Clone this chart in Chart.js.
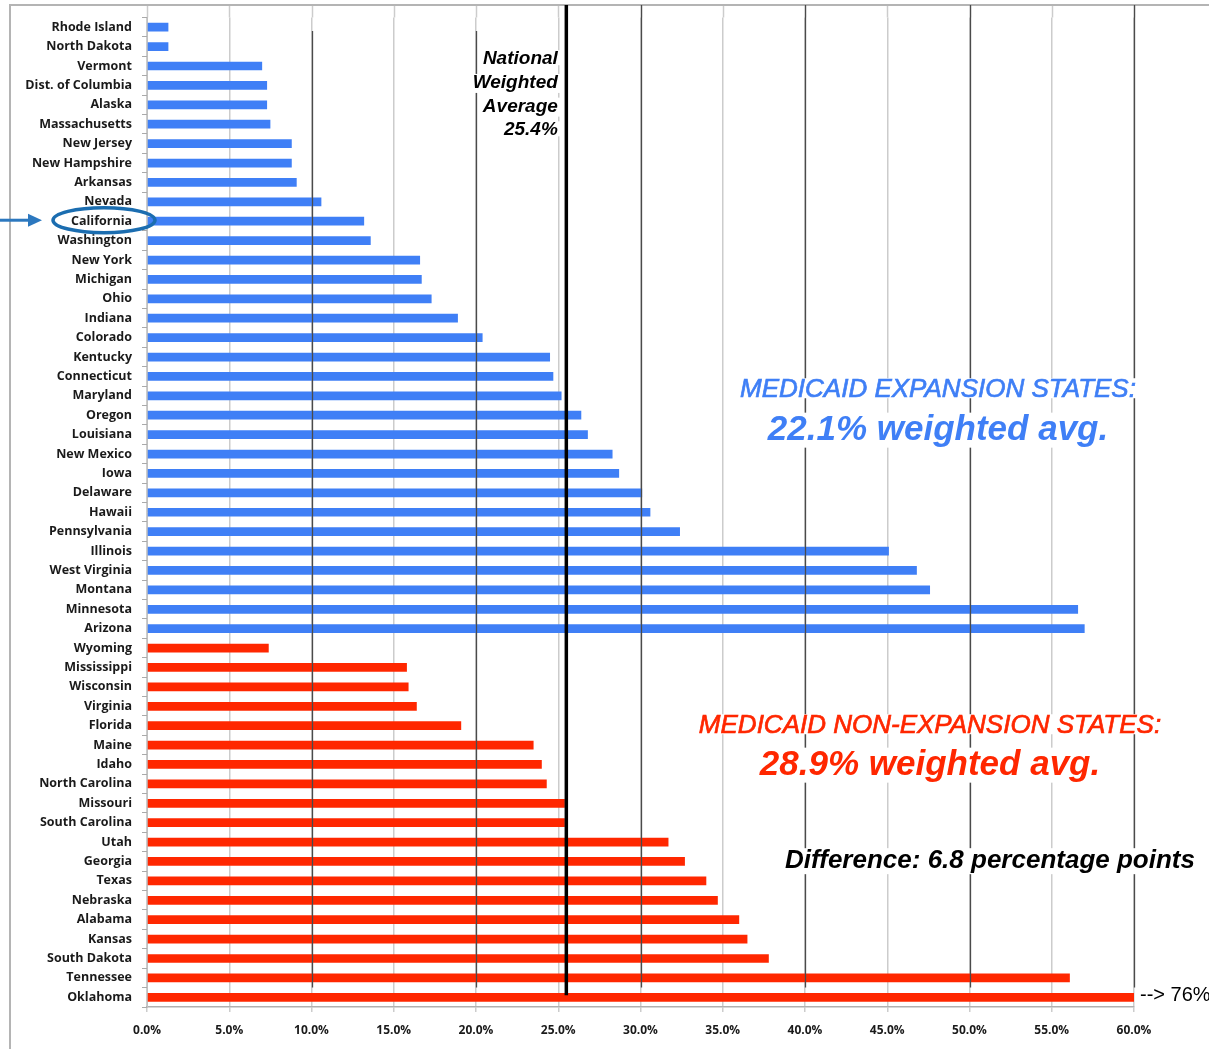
<!DOCTYPE html>
<html><head><meta charset="utf-8">
<script src="https://cdn.jsdelivr.net/npm/chart.js@4.4.1/dist/chart.umd.min.js"></script>
<style>html,body{margin:0;padding:0;background:#fff;} canvas{display:block}</style>
</head><body>
<canvas id="c" width="1209" height="1049"></canvas>
<script>
// ---- DATA ----
const expansionStates = ["Rhode Island","North Dakota","Vermont","Dist. of Columbia","Alaska","Massachusetts","New Jersey","New Hampshire","Arkansas","Nevada","California","Washington","New York","Michigan","Ohio","Indiana","Colorado","Kentucky","Connecticut","Maryland","Oregon","Louisiana","New Mexico","Iowa","Delaware","Hawaii","Pennsylvania","Illinois","West Virginia","Montana","Minnesota","Arizona"];
const expansionRates = [1.3,1.3,7.0,7.3,7.3,7.5,8.8,8.8,9.1,10.6,13.2,13.6,16.6,16.7,17.3,18.9,20.4,24.5,24.7,25.2,26.4,26.8,28.3,28.7,30.1,30.6,32.4,45.1,46.8,47.6,56.6,57.0];
const nonExpansionStates = ["Wyoming","Mississippi","Wisconsin","Virginia","Florida","Maine","Idaho","North Carolina","Missouri","South Carolina","Utah","Georgia","Texas","Nebraska","Alabama","Kansas","South Dakota","Tennessee","Oklahoma"];
const nonExpansionRates = [7.4,15.8,15.9,16.4,19.1,23.5,24.0,24.3,25.4,25.4,31.7,32.7,34.0,34.7,36.0,36.5,37.8,56.1,76.0];
const xAxisMin = 0, xAxisMax = 60, xAxisStep = 5;
const nationalAverage = 25.4;
const expansionAverage = 22.1;
const nonExpansionAverage = 28.9;
const differencePoints = 6.8;
const highlightedState = "California";

// ---- derived ----
const states = expansionStates.concat(nonExpansionStates);
const rates = expansionRates.concat(nonExpansionRates);
const BLUE = "#3f7ff6", RED = "#ff2700";
const colors = expansionStates.map(() => BLUE).concat(nonExpansionStates.map(() => RED));
const overflowValue = nonExpansionRates[nonExpansionRates.length - 1];

const FRAME_TOP = 5, FRAME_LEFT = 10;

function textBg(ctx, text, x, y, font, color, align, strokeW) {
  ctx.save();
  ctx.font = font;
  ctx.textAlign = align;
  ctx.textBaseline = "middle";
  const m = ctx.measureText(text);
  const w = m.width;
  const h = (m.actualBoundingBoxAscent + m.actualBoundingBoxDescent) || 20;
  let x0 = align === "center" ? x - w / 2 : align === "right" ? x - w : x;
  ctx.fillStyle = "#fff";
  ctx.fillRect(x0 - 3, y - m.actualBoundingBoxAscent - 1, w + 6, h + 2);
  ctx.fillStyle = color;
  ctx.fillText(text, x, y);
  if (strokeW) { ctx.strokeStyle = color; ctx.lineWidth = strokeW; ctx.strokeText(text, x, y); }
  ctx.restore();
}

const decor = {
  id: "decor",
  beforeDraw(chart) {
    const ctx = chart.ctx, a = chart.chartArea, xs = chart.scales.x;
    ctx.save();
    ctx.fillStyle = "#fff";
    ctx.fillRect(0, 0, chart.width, chart.height);
    ctx.strokeStyle = "#cccccc"; ctx.lineWidth = 1.5;
    for (let v = xAxisMin; v <= xAxisMax; v += xAxisStep) {
      const px = Math.round(xs.getPixelForValue(v)) + 0.5;
      ctx.beginPath(); ctx.moveTo(px, FRAME_TOP); ctx.lineTo(px, a.top); ctx.stroke();
    }
    ctx.strokeStyle = "#b4b4b4"; ctx.lineWidth = 2;
    ctx.beginPath();
    ctx.moveTo(FRAME_LEFT, chart.height); ctx.lineTo(FRAME_LEFT, FRAME_TOP); ctx.lineTo(chart.width, FRAME_TOP);
    ctx.stroke();
    ctx.restore();
  },
  afterDatasetsDraw(chart) {
    const ctx = chart.ctx, xs = chart.scales.x, ys = chart.scales.y;
    ctx.save();
    ctx.strokeStyle = "#4a4a4a"; ctx.lineWidth = 1.3;
    const yEnd = ys.getPixelForValue(states.length - 1.5);
    for (let v = 10; v <= xAxisMax; v += 10) {
      const px = Math.round(xs.getPixelForValue(v)) + 0.5;
      const yStart = v <= 20 ? ys.getPixelForValue(0.2) : FRAME_TOP;
      ctx.beginPath(); ctx.moveTo(px, yStart); ctx.lineTo(px, yEnd); ctx.stroke();
    }
    const ax = xs.getPixelForValue(nationalAverage) + 1.5;
    ctx.strokeStyle = "#000"; ctx.lineWidth = 3.5;
    ctx.beginPath(); ctx.moveTo(ax, FRAME_TOP); ctx.lineTo(ax, ys.getPixelForValue(states.length - 1) - 2); ctx.stroke();
    ctx.restore();
  },
  afterDraw(chart) {
    const ctx = chart.ctx, xs = chart.scales.x, ys = chart.scales.y;
    const ax = xs.getPixelForValue(nationalAverage);
    const nf = 'italic bold 19px "Liberation Sans", Arial, sans-serif';
    const nLines = ["National", "Weighted", "Average", nationalAverage.toFixed(1) + "%"];
    nLines.forEach((t, i) => textBg(ctx, t, ax - 7, 59 + i * 23.7, nf, "#000", "right"));
    textBg(ctx, "MEDICAID EXPANSION STATES:", 938, 390, 'italic 26px "Liberation Sans", Arial, sans-serif', BLUE, "center", 0.7);
    textBg(ctx, expansionAverage.toFixed(1) + "% weighted avg.", 938, 430, 'italic bold 35px "Liberation Sans", Arial, sans-serif', BLUE, "center");
    textBg(ctx, "MEDICAID NON-EXPANSION STATES:", 930, 726, 'italic 26px "Liberation Sans", Arial, sans-serif', RED, "center", 0.7);
    textBg(ctx, nonExpansionAverage.toFixed(1) + "% weighted avg.", 930, 765, 'italic bold 35px "Liberation Sans", Arial, sans-serif', RED, "center");
    textBg(ctx, "Difference: " + differencePoints.toFixed(1) + " percentage points", 990, 861, 'italic bold 26px "Liberation Sans", Arial, sans-serif', "#000", "center");
    const oy = ys.getPixelForValue(states.length - 1);
    ctx.save();
    ctx.font = '20px "Liberation Sans", Arial, sans-serif';
    ctx.fillStyle = "#000"; ctx.textAlign = "left"; ctx.textBaseline = "middle";
    ctx.fillText("--> " + Math.round(overflowValue) + "%", chart.chartArea.right + 6, oy - 2);
    ctx.restore();
    const cy = ys.getPixelForValue(states.indexOf(highlightedState)) - 1;
    ctx.save();
    ctx.strokeStyle = "#1b6db0"; ctx.lineWidth = 3.5;
    ctx.beginPath(); ctx.ellipse(104, cy, 51, 12.5, 0, 0, Math.PI * 2); ctx.stroke();
    ctx.strokeStyle = "#2c78bf"; ctx.fillStyle = "#2c78bf"; ctx.lineWidth = 3;
    ctx.beginPath(); ctx.moveTo(0, cy); ctx.lineTo(30, cy); ctx.stroke();
    ctx.beginPath(); ctx.moveTo(28, cy - 6.5); ctx.lineTo(42, cy); ctx.lineTo(28, cy + 6.5); ctx.closePath(); ctx.fill();
    ctx.restore();
  }
};

new Chart(document.getElementById("c"), {
  type: "bar",
  data: {
    labels: states,
    datasets: [{
      data: rates,
      backgroundColor: colors,
      borderWidth: 0,
      barPercentage: 0.45,
      categoryPercentage: 1,
      clip: 0
    }]
  },
  options: {
    indexAxis: "y",
    responsive: false,
    animation: false,
    devicePixelRatio: 1,
    layout: { padding: { top: 12, right: 75, bottom: 0, left: 0 } },
    plugins: { legend: { display: false }, tooltip: { enabled: false } },
    scales: {
      x: {
        type: "linear",
        min: xAxisMin, max: xAxisMax,
        afterFit: s => { s.height = 42; },
        ticks: {
          stepSize: xAxisStep,
          padding: 11,
          color: "#1a1a1a",
          font: { family: '"Open Sans", sans-serif', weight: "bold", size: 12 },
          callback: v => Number(v).toFixed(1) + "%"
        },
        grid: { color: "#cccccc", lineWidth: 1.5, tickLength: 5 },
        border: { color: "#b0b0b0", width: 1.5 }
      },
      y: {
        type: "category",
        offset: true,
        afterFit: s => { s.width = 147; },
        ticks: {
          autoSkip: false,
          padding: 10,
          color: "#1a1a1a",
          font: { family: '"Open Sans", sans-serif', weight: "bold", size: 12.5 }
        },
        grid: { drawOnChartArea: false, color: "#aaaaaa", tickLength: 5, offset: true },
        border: { color: "#c0c0c0", width: 1 }
      }
    }
  },
  plugins: [decor]
});
</script>
</body></html>
